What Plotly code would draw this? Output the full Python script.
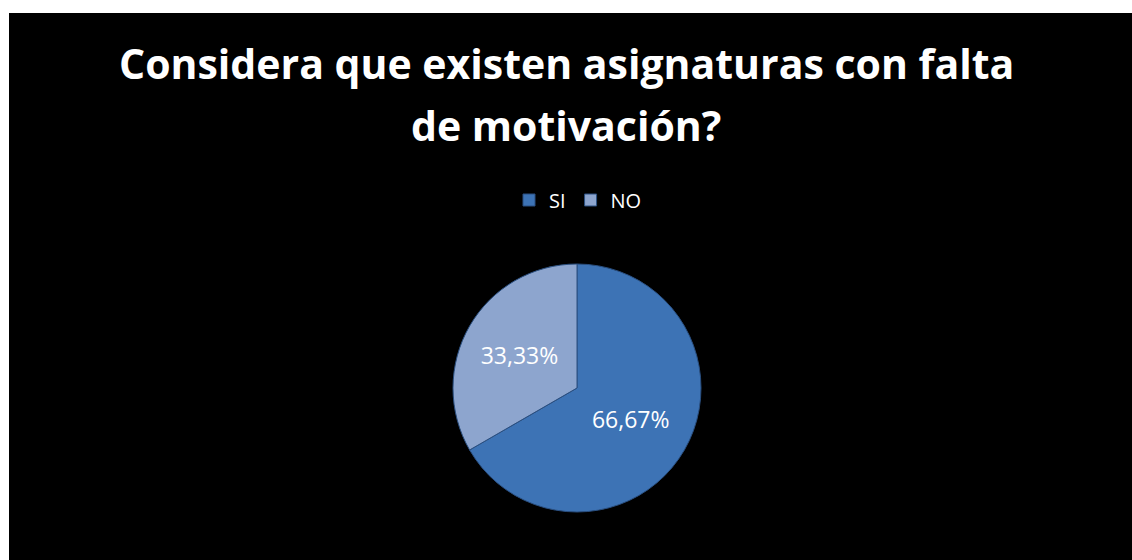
import plotly.graph_objects as go

labels = ["SI", "NO"]
values = [66.67, 33.33]
colors = ["#3D73B5", "#8DA5CE"]
title_lines = ["Considera que existen asignaturas con falta", "de motivación?"]

W, H = 1132, 560
cx, cy, r = 577, 388, 124

fig = go.Figure()
fig.add_trace(go.Pie(
    labels=labels,
    values=values,
    sort=False,
    direction="clockwise",
    rotation=0,
    marker=dict(colors=colors, line=dict(color="#2A4F80", width=1)),
    texttemplate="%{percent:.2%}",
    textposition="inside",
    insidetextfont=dict(color="white", size=23, family="Open Sans"),
    domain=dict(x=[(cx - r) / W, (cx + r) / W], y=[(H - cy - r) / H, (H - cy + r) / H]),
    hoverinfo="label+percent",
))

# black chart area, white strip on the top and left edges
fig.add_shape(type="rect", xref="paper", yref="paper",
              x0=9 / W, x1=1, y0=0, y1=1 - 13 / H,
              fillcolor="black", line=dict(width=0), layer="below")

# title as two lines, spaced like the original
for line, ypx in zip(title_lines, [63, 125]):
    fig.add_annotation(text=line, xref="paper", yref="paper",
                       x=566 / W, y=1 - ypx / H, xanchor="center", yanchor="middle",
                       showarrow=False,
                       font=dict(family="Open Sans", size=41, color="white", weight="bold"))

fig.update_layout(
    width=W, height=H,
    margin=dict(l=0, r=0, t=0, b=0),
    paper_bgcolor="white",
    plot_bgcolor="black",
    separators=",.",
    showlegend=True,
    legend=dict(orientation="h", x=578 / W, xanchor="center",
                y=1 - 200 / H, yanchor="middle",
                font=dict(family="Open Sans", size=20, color="white"),
                bgcolor="rgba(0,0,0,0)", itemwidth=30),
)

fig.write_html("out.html", config={"displayModeBar": False},
               post_script="document.body.style.margin='0';document.body.style.overflow='hidden';")
